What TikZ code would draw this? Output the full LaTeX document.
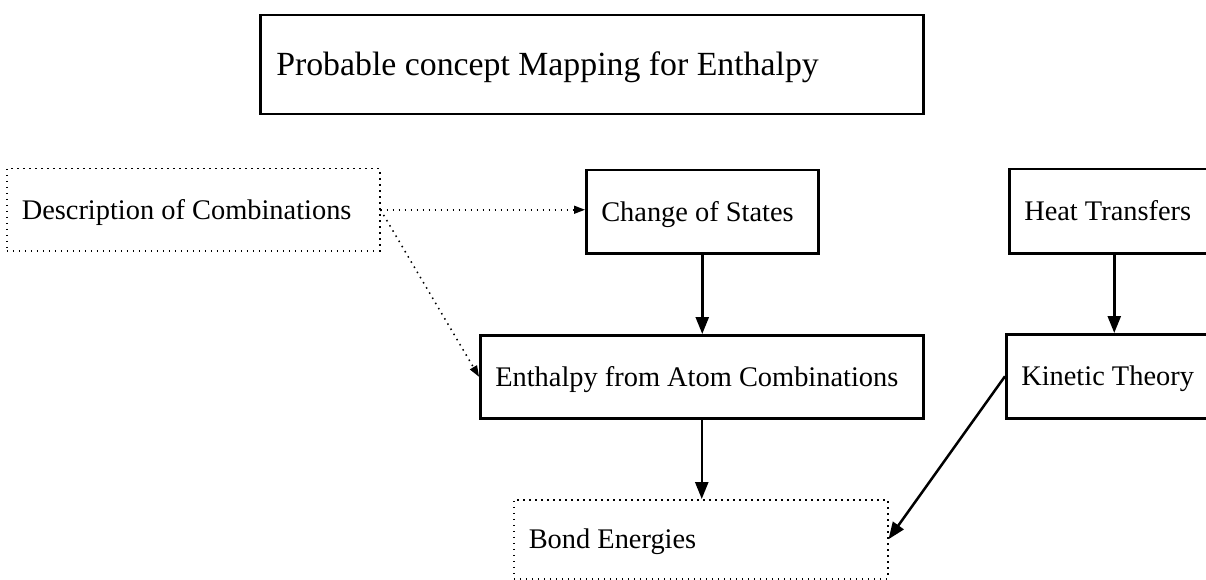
\documentclass[tikz,border=0pt]{standalone}
\usepackage{fontspec}
\setmainfont{Liberation Serif}
\usetikzlibrary{arrows.meta}
\newcommand{\lefttext}[2]{\makebox[#1][l]{#2}}
\tikzset{
  solidbox/.style={draw, line width=2.5pt, anchor=north west, inner xsep=15pt, inner ysep=0pt,
    text height=18.7pt, text depth=0pt, font=\fontsize{28.4}{34}\selectfont},
  dotbox/.style={solidbox, line width=1.5pt, dash pattern=on 1.5pt off 4.5pt},
  titlebox/.style={solidbox, inner xsep=16pt, text height=22.3pt, font=\fontsize{33.8}{40}\selectfont},
  solidarrow/.style={line width=2.5pt, -{Triangle[length=17pt,width=13pt]}},
  dotarrow/.style={line width=1.5pt, dash pattern=on 1.5pt off 4.5pt, -{Triangle[length=11pt,width=8pt]}},
}
\begin{document}
\begin{tikzpicture}[x=1pt,y=-1pt]
\clip (0,0) rectangle (1206,580);
\fill[white] (0,0) rectangle (1206,580);

\node[titlebox, minimum height=99pt] (title) at (259,14) {\lefttext{631pt}{Probable concept Mapping for Enthalpy}};

\node[dotbox, minimum height=82pt] (desc) at (6,168) {\lefttext{343pt}{Description of Combinations}};
\node[solidbox, minimum height=83pt] (change) at (585,169) {\lefttext{202pt}{Change of States}};
\node[solidbox, minimum height=84pt] (heat) at (1008,168) {\lefttext{180pt}{Heat Transfers}};
\node[solidbox, minimum height=83pt] (enth) at (479,334) {\lefttext{413pt}{Enthalpy from Atom Combinations}};
\node[solidbox, minimum height=84pt] (kin) at (1005,333) {\lefttext{186pt}{Kinetic Theory}};
\node[dotbox, minimum height=79pt] (bond) at (513,499) {\lefttext{344pt}{Bond Energies}};

\draw[dotarrow] (desc.east) -- (desc.east -| change.west);
\draw[dotarrow] (desc.east) -- (enth.west);
\draw[solidarrow] (change.south) -- (change.south |- enth.north);
\draw[solidarrow] (enth.south) -- (enth.south |- bond.north);
\draw[solidarrow] (heat.south) -- (heat.south |- kin.north);
\draw[solidarrow] (kin.west) -- (bond.east);
\end{tikzpicture}
\end{document}
